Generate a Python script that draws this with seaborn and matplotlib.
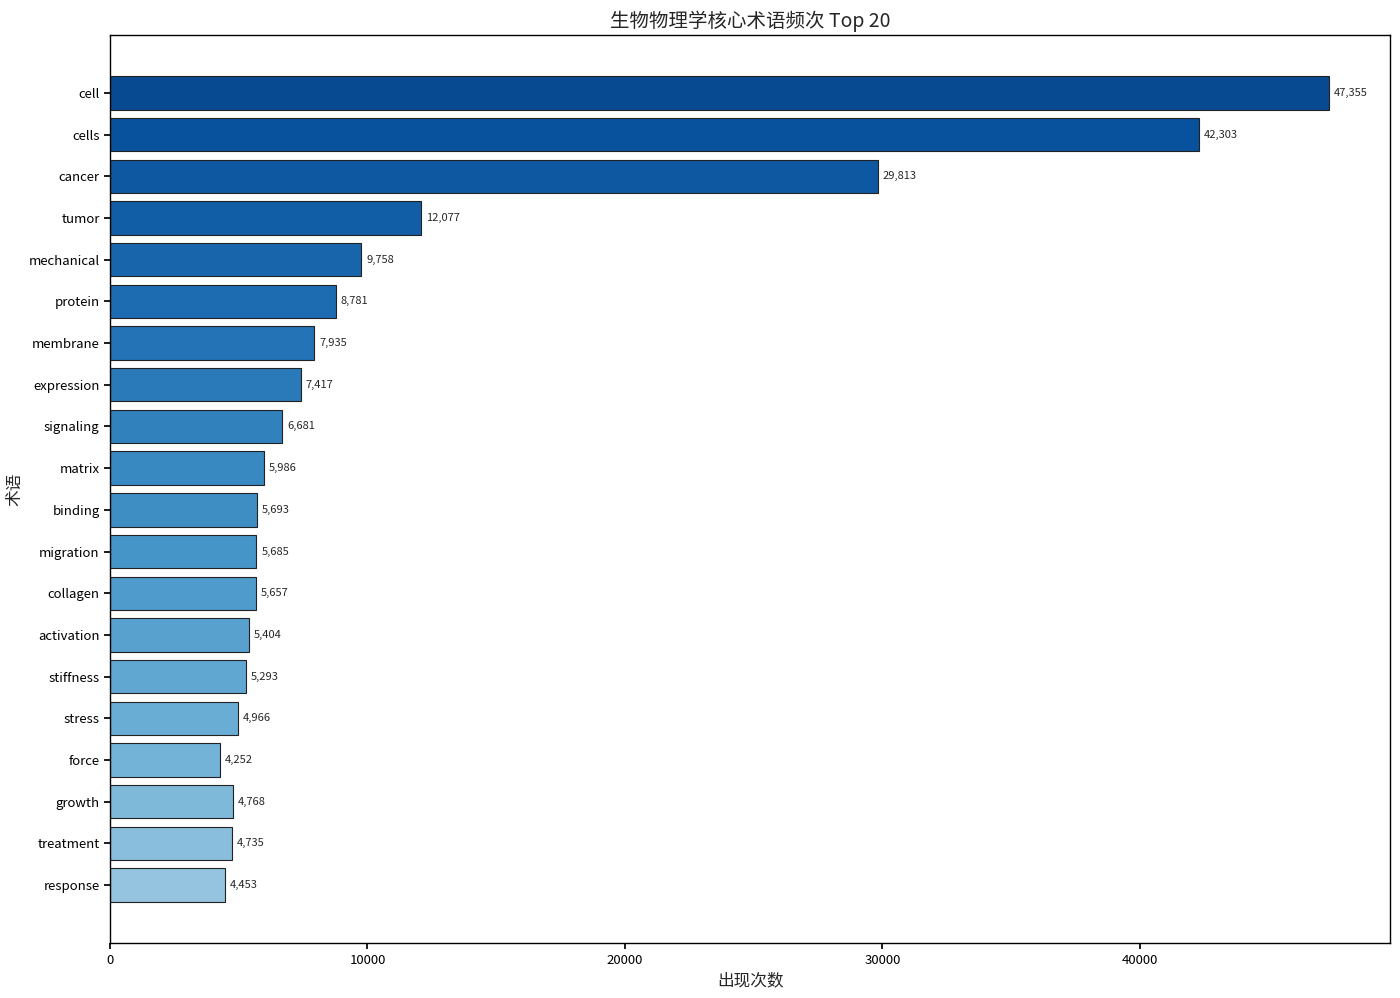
import numpy as np
import pandas as pd
import seaborn as sns
import matplotlib
matplotlib.use("Agg")
import matplotlib.pyplot as plt

terms = ["cell", "cells", "cancer", "tumor", "mechanical", "protein", "membrane",
         "expression", "signaling", "matrix", "binding", "migration", "collagen",
         "activation", "stiffness", "stress", "force", "growth", "treatment", "response"]
counts = [47355, 42303, 29813, 12077, 9758, 8781, 7935, 7417, 6681, 5986,
          5693, 5685, 5657, 5404, 5293, 4966, 4252, 4768, 4735, 4453]

df = pd.DataFrame({"term": terms, "count": counts})

sns.set_theme(style="ticks")
plt.rcParams['font.family'] = ['Noto Sans CJK SC', 'DejaVu Sans']
plt.rcParams['axes.unicode_minus'] = False

# dark at the top, light at the bottom
colors = plt.cm.Blues(np.linspace(0.9, 0.4, len(terms)))

fig, ax = plt.subplots(figsize=(14, 9.98), dpi=100)
fig.subplots_adjust(left=0.0786, right=0.993, top=0.965, bottom=0.055)

sns.barplot(data=df, x="count", y="term", hue="term", palette=list(colors),
            legend=False, edgecolor="#222222", linewidth=0.8, width=0.8,
            saturation=1, ax=ax)

n = len(terms)
pad = 0.05 * (n - 1 + 0.8)
ax.set_ylim(n - 1 + 0.4 + pad, -0.4 - pad)
ax.set_xlim(0, max(counts) * 1.05)

for i, v in enumerate(counts):
    ax.text(v + max(counts) * 0.004, i, f"{v:,}", va="center", ha="left", fontsize=8)

for s in ax.spines.values():
    s.set_linewidth(1.0)
    s.set_color("black")
ax.tick_params(axis="both", labelsize=9.5, colors="black", length=4)

ax.set_title("生物物理学核心术语频次 Top 20", fontsize=14)
ax.set_xlabel("出现次数", fontsize=12)
ax.set_ylabel("术语", fontsize=12)

fig.savefig("out.png", dpi=100)
